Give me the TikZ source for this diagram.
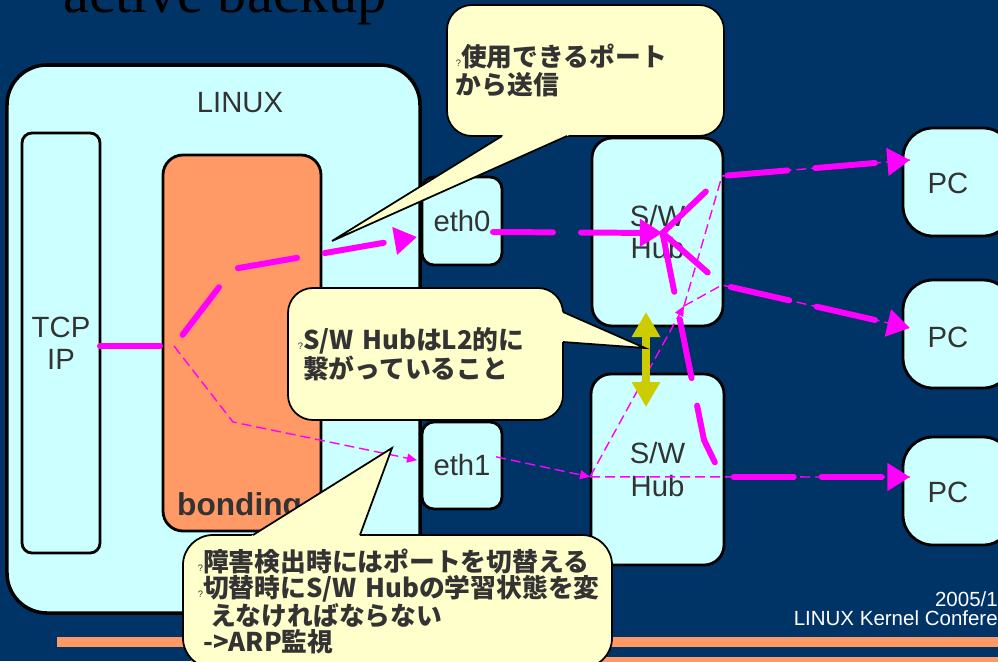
\documentclass[tikz,border=0pt]{standalone}
\usepackage{fontspec}
\setmainfont{Liberation Sans}
\newfontfamily\titlefont{Liberation Serif}
\newfontfamily\notefont{Noto Sans CJK JP}
\usetikzlibrary{
  arrows.meta, calc
}

\definecolor{slidebg}{HTML}{003366}
\definecolor{boxcyan}{HTML}{CCFFFF}
\definecolor{bondorange}{HTML}{FF9966}
\definecolor{notefill}{HTML}{FFFFCC}
\definecolor{linkmag}{HTML}{FF00FF}
\definecolor{syncyellow}{HTML}{CCCC00}
\definecolor{inkgray}{HTML}{333333}

\newcommand{\qm}{{\normalfont\fontsize{8}{8}\selectfont ?}}
\newcommand{\calltail}[3]{%
  \fill[notefill] ($(#2)!1.1!(#1)$) -- (#2) -- ($(#2)!1.1!(#3)$) -- cycle;
  \draw[line width=1.5pt] (#1) -- (#2) -- (#3);}

\begin{document}
\begin{tikzpicture}[x=0.03cm, y=-0.03cm,
    box/.style={draw=black, line width=2.4pt, fill=boxcyan, rounded corners=#1,
      inner sep=0pt, outer sep=0pt, text=inkgray, align=center,
      font=\fontsize{25}{27}\selectfont},
    box/.default=0.36cm,
    txt/.style={text=inkgray, inner sep=0pt, font=\fontsize{25}{27}\selectfont},
    note/.style={draw=black, line width=1.5pt, fill=notefill, rounded corners=0.75cm,
      outer sep=0pt, text=inkgray, align=left,
      font=\notefont\bfseries\fontsize{22}{24}\selectfont},
    active/.style={draw=linkmag, line width=5.1pt, line cap=round, line join=round,
      dash pattern=on 1.8cm off 0.84cm, -{Triangle[length=0.68cm,width=0.8cm]}},
    backup/.style={draw=linkmag, line width=1.2pt, dash pattern=on 0.3cm off 0.15cm},
    smalltip/.style={-{Triangle[length=0.3cm,width=0.27cm]}},
    sync/.style={draw=syncyellow, line width=7.6pt,
      {Triangle[length=0.75cm,width=0.81cm]}-{Triangle[length=0.75cm,width=0.81cm]}}
  ]
  \useasboundingbox (0,0) rectangle (998,661);
  \fill[slidebg] (0,0) rectangle (998,661);

  % slide frame
  \node[anchor=base west, inner sep=0pt, font=\titlefont\fontsize{50}{50}\selectfont] (title) at (63,12) {active backup};
  \fill[bondorange] (57,637) rectangle (1000,647);
  \fill[bondorange] (191,657) rectangle (1000,665);
  \node[anchor=base east, inner sep=0pt, text=white, font=\fontsize{17.5}{18}\selectfont] (date) at (998,606) {2005/1};
  \node[anchor=base east, inner sep=0pt, text=white, font=\fontsize{17.5}{18}\selectfont] (conf) at (998,625) {LINUX Kernel Confere};

  % host
  \node[box=1.2cm, line width=3pt, minimum width=12.39cm, minimum height=16.44cm] (linux) at (213.5,339) {};
  \node[txt] (linuxlbl) at (240,103) {LINUX};
  \node[box=0.3cm, minimum width=2.34cm, minimum height=12.6cm] (tcp) at (61,343) {TCP\\IP};
  \node[box=0.6cm, fill=bondorange, minimum width=4.74cm, minimum height=11.28cm] (bond) at (242,343) {};
  \node[txt, anchor=base west, font=\bfseries\fontsize{27}{27}\selectfont] (bondlbl) at (177,515) {bonding};
  \node[box, minimum width=2.4cm, minimum height=2.64cm] (eth0) at (462,221) {eth0};
  \node[box, minimum width=2.4cm, minimum height=2.61cm] (eth1) at (462,465.5) {eth1};

  % switches and hosts
  \node[box=0.6cm, minimum width=3.93cm, minimum height=5.64cm, font=\fontsize{25}{28}\selectfont] (hub1) at (657.5,232) {S/W\\Hub};
  \node[box=0.6cm, minimum width=3.99cm, minimum height=5.73cm, font=\fontsize{25}{28}\selectfont] (hub2) at (657.5,469.5) {S/W\\Hub};
  \foreach \n/\y/\t in {1/182/183, 2/334/337, 3/491/492} {
    \node[box=0.9cm, minimum width=3.3cm, minimum height=3.24cm] (pc\n) at (958,\y) {};
    \node[txt] (pctxt\n) at (948,\t) {PC};
  }

  \coordinate (split) at (174,346);
  \coordinate (kink) at (233,269);
  \coordinate (dip) at (233,422);
  \coordinate (hubc) at ([xshift=0.15cm,yshift=-0.03cm]hub1.center);
  \coordinate (hubin) at ([xshift=-0.03cm,yshift=-0.22cm]hub2.west);
  \coordinate (meet) at (684,306);
  \coordinate (up1) at (722,176);
  \coordinate (up2) at (722,285);
  \coordinate (down1) at (704,440);
  \coordinate (down2) at (722,477);
  \coordinate (pcin1) at ([xshift=0.21cm,yshift=0.66cm]pc1.west);
  \coordinate (pcin2) at ([xshift=0.21cm,yshift=0.18cm]pc2.west);
  \coordinate (pcin3) at ([xshift=0.21cm,yshift=0.42cm]pc3.west);

  % backup path
  \draw[backup, smalltip] (split) -- (dip) -- ([xshift=-0.15cm,yshift=0.16cm]eth1.west);
  \draw[backup, smalltip] ([xshift=-0.18cm,yshift=0.26cm]eth1.east) -- (hubin);
  \draw[backup] (hubin) -- (pcin3);
  \draw[backup, smalltip] (hubin) -- (meet);
  \draw[backup] (meet) -- (up1) -- (pcin1);
  \draw[backup] (meet) -- (up2) -- (pcin2);

  % active path
  \draw[active] (tcp.east |- split) -- (split) -- (kink) -- ([xshift=-0.15cm,yshift=-0.48cm]eth0.west);
  \draw[active] ([xshift=-0.27cm,yshift=-0.33cm]eth0.east) -- (hubc);
  \draw[active] (hubc) -- (up1) -- (pcin1);
  \draw[active] (hubc) -- (up2) -- (pcin2);
  \draw[active] (hubc) -- (down1) -- (down2) -- (pcin3);

  \draw[sync] ([xshift=-0.345cm,yshift=0.42cm]hub1.south) -- ([xshift=-0.345cm,yshift=-0.99cm]hub2.north);

  % callouts
  \node[note, minimum width=8.31cm, minimum height=3.93cm, text width=7.77cm, inner xsep=0.27cm] (note1) at (585.5,70.5)
    {\qm 使用できるポート\\から送信};
  \coordinate (tip1) at (332,241);
  \coordinate (base1a) at ([xshift=-2.505cm]note1.south);
  \coordinate (base1b) at ([xshift=-0.555cm]note1.south);
  \calltail{base1a}{tip1}{base1b}

  \node[note, minimum width=8.25cm, minimum height=3.96cm, text width=7.65cm, inner xsep=0.3cm,
    font=\notefont\bfseries\fontsize{22}{22.5}\selectfont] (note2) at (425.5,354)
    {\qm S/W~HubはL2的に\\\phantom{\qm}繋がっていること};
  \coordinate (tip2) at (645,348);
  \coordinate (base2a) at ([yshift=1.26cm]note2.east);
  \coordinate (base2b) at ([yshift=0.36cm]note2.east);
  \calltail{base2a}{tip2}{base2b}

  \node[note, rounded corners=0.9cm, minimum width=12.87cm, minimum height=3.99cm, text width=11.97cm, inner xsep=0.45cm,
    font=\notefont\bfseries\fontsize{22}{22}\selectfont] (note3) at (397.5,601.5)
    {\qm 障害検出時にはポートを切替える\\\qm 切替時にS/W~Hubの学習状態を変\\\phantom{\qm}\hspace*{0.27em}えなければならない\\\phantom{\qm}->ARP監視};
  \coordinate (tip3) at (392,448);
  \coordinate (base3a) at ([xshift=-4.335cm]note3.north);
  \coordinate (base3b) at ([xshift=-1.125cm]note3.north);
  \calltail{base3a}{tip3}{base3b}
\end{tikzpicture}
\end{document}
